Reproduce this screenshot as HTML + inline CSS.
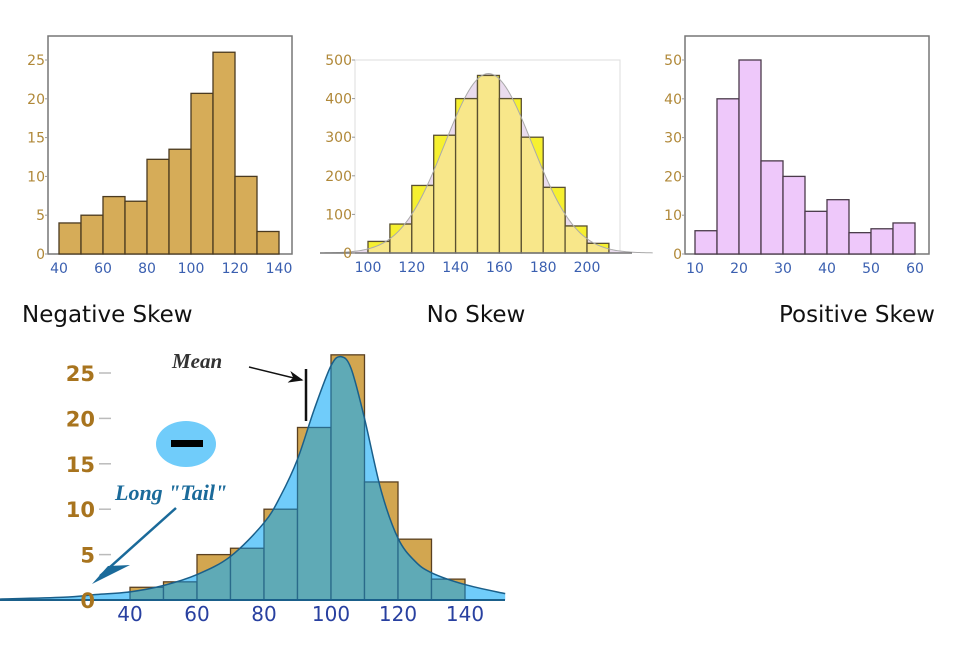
<!DOCTYPE html>
<html><head><meta charset="utf-8"><style>
body{margin:0;background:#fff;width:966px;height:658px;overflow:hidden;font-family:"Liberation Sans",sans-serif}
svg{position:absolute;left:0;top:0}
</style></head><body>
<svg id="s" width="966" height="658">
<text x="22" y="322" font-size="23" font-family="DejaVu Sans" fill="#111">Negative Skew</text>
<text x="476" y="322" font-size="23" font-family="DejaVu Sans" fill="#111" text-anchor="middle">No Skew</text>
<text x="935" y="322" font-size="23" font-family="DejaVu Sans" fill="#111" text-anchor="end">Positive Skew</text>
</svg>
<script>
const negEdges=[40,50,60,70,80,90,100,110,120,130,140];
const negCounts=[4,5,7.4,6.8,12.2,13.5,20.7,26,10,2.9];
const negYTicks=[0,5,10,15,20,25];
const negXTicks=[40,60,80,100,120,140];
const normEdges=[100,110,120,130,140,150,160,170,180,190,200,210];
const normCounts=[30,75,175,305,400,460,400,300,170,70,25];
const normYTicks=[0,100,200,300,400,500];
const normXTicks=[100,120,140,160,180,200];
const normMean=155, normSd=20, normPeak=465;
const posEdges=[10,15,20,25,30,35,40,45,50,55,60];
const posCounts=[6,40,50,24,20,11,14,5.5,6.5,8];
const posYTicks=[0,10,20,30,40,50];
const posXTicks=[10,20,30,40,50,60];
const bigEdges=[40,50,60,70,80,90,100,110,120,130,140];
const bigCounts=[1.4,2,5,5.7,10,19,27,13,6.7,2.3];
const bigYTicks=[0,5,10,15,20,25];
const bigXTicks=[40,60,80,100,120,140];
const curveX=[1,20,30,40,50,60,70,80,85,90,95,100,103,106,110,115,120,125,130,140,152];
const curveY=[0.1,0.3,0.6,0.9,1.6,2.8,4.8,8.5,11.5,15.5,21,25.8,26.8,25.5,20,12,6.8,4.3,3,1.7,0.7];

const NS="http://www.w3.org/2000/svg";
const svg=document.getElementById('s');
function mk(tag,attrs,parent){const e=document.createElementNS(NS,tag);for(const k in attrs)e.setAttribute(k,attrs[k]);(parent||svg).appendChild(e);return e;}
function lin(d0,d1,r0,r1){return v=>r0+(v-d0)*(r1-r0)/(d1-d0);}

function smallHist(o){
  const g=mk('g',{});
  
  
  const xs=lin(o.x0v,o.x1v,o.x0p,o.x1p), ys=lin(0,o.ytop,o.y0p,o.ytopp);
  const frame=mk('rect',{x:o.box[0],y:o.box[1],width:o.box[2]-o.box[0],height:o.box[3]-o.box[1],fill:'#fff',stroke:o.frameColor,'stroke-width':o.frameW},g);
  
  
  let cd='';
  if(o.curve){
    for(let x=o.cx0;x<=o.cx1;x+=1){const v=o.peak*Math.exp(-0.5*Math.pow((x-o.mean)/o.sd,2));cd+=(cd?'L':'M')+xs(x)+','+ys(v);}
    const area=cd+'L'+xs(o.cx1)+','+ys(0)+'L'+xs(o.cx0)+','+ys(0)+'Z';
    const defs=mk('defs',{},g);
    const cp=mk('clipPath',{id:'nc'},defs);
    mk('path',{d:area},cp);
    const path=mk('path',{d:area,fill:'#eadcee',stroke:'none'},g);
    
    
  }
  for(let i=0;i<o.counts.length;i++){
    const x=xs(o.edges[i]),w=xs(o.edges[i+1])-x,y=ys(o.counts[i]);
    const r=mk('rect',{x:x,y:y,width:w,height:ys(0)-y,fill:o.fill,stroke:o.stroke,'stroke-width':1.3},g);
    
    
  }
  if(o.curve){
    const cg=mk('g',{'clip-path':'url(#nc)'},g);
    for(let i=0;i<o.counts.length;i++){
      const x=xs(o.edges[i]),w=xs(o.edges[i+1])-x,y=ys(o.counts[i]);
      const r=mk('rect',{x:x,y:y,width:w,height:ys(0)-y,fill:'#f8e78a',stroke:o.stroke,'stroke-width':1.3},cg);
      
      
    }
    const c=mk('path',{d:cd,fill:'none',stroke:'#aaa','stroke-width':1},g);
    
    
    const bl=mk('line',{x1:o.blx0,x2:o.blx1,y1:ys(0),y2:ys(0),stroke:'#777','stroke-width':1.5},g);
    
    
  }
  o.yt.forEach(v=>{
    const t=mk('text',{x:o.box[0]-3,y:ys(v)+5,'font-size':14,fill:'#b08838','text-anchor':'end','font-family':'DejaVu Sans'},g);t.textContent=v;
    
    
    mk('line',{x1:o.box[0]-3,x2:o.box[0],y1:ys(v),y2:ys(v),stroke:'#999'},g);
  });
  o.xt.forEach(v=>{
    const t=mk('text',{x:xs(v),y:o.y0p+19,'font-size':14,fill:'#3a5fb0','text-anchor':'middle','font-family':'DejaVu Sans'},g);t.textContent=v;
    
    
  });
}
smallHist({name:'negative-skew-chart',edges:negEdges,counts:negCounts,yt:negYTicks,xt:negXTicks,x0v:40,x1v:140,x0p:59,x1p:279,ytop:25,y0p:254,ytopp:60,box:[48,36,292,254],fill:'#d6ac58',stroke:'#4a3a20',frameColor:'#777',frameW:1.5});
smallHist({name:'no-skew-chart',edges:normEdges,counts:normCounts,yt:normYTicks,xt:normXTicks,x0v:100,x1v:200,x0p:368,x1p:587,ytop:500,y0p:253,ytopp:60,box:[355,60,620,253],fill:'#f6f030',stroke:'#5a5030',frameColor:'#ddd',frameW:1,curve:true,mean:normMean,sd:normSd,peak:normPeak,cx0:80,cx1:230,blx0:320,blx1:632});
smallHist({name:'positive-skew-chart',edges:posEdges,counts:posCounts,yt:posYTicks,xt:posXTicks,x0v:10,x1v:60,x0p:695,x1p:915,ytop:50,y0p:254,ytopp:60,box:[685,36,929,254],fill:'#eec8fa',stroke:'#4a3a4a',frameColor:'#777',frameW:1.5});

(function(){
  const xs=lin(40,140,130,465), ys=lin(0,25,600,373);
  const g=mk('g',{});
  
  
  let pts=curveX.map((x,i)=>[xs(x),ys(curveY[i])]);
  let sd='M'+pts[0][0]+','+pts[0][1];
  for(let i=0;i<pts.length-1;i++){
    const p0=pts[Math.max(0,i-1)],p1=pts[i],p2=pts[i+1],p3=pts[Math.min(pts.length-1,i+2)];
    sd+='C'+(p1[0]+(p2[0]-p0[0])/6)+','+(p1[1]+(p2[1]-p0[1])/6)+' '+(p2[0]-(p3[0]-p1[0])/6)+','+(p2[1]-(p3[1]-p1[1])/6)+' '+p2[0]+','+p2[1];
  }
  const area=sd+'L'+pts[pts.length-1][0]+','+ys(0)+'L'+pts[0][0]+','+ys(0)+'Z';
  const defs=mk('defs',{},g);
  const cp=mk('clipPath',{id:'cc'},defs);
  mk('path',{d:area},cp);
  for(let i=0;i<bigCounts.length;i++){
    const x=xs(bigEdges[i]),w=xs(bigEdges[i+1])-x,y=ys(bigCounts[i]);
    const r=mk('rect',{x:x,y:y,width:w,height:ys(0)-y,fill:'#d2a650',stroke:'#5a4020','stroke-width':1.3},g);
    
    
  }
  const a=mk('path',{d:area,fill:'#70ccfa',stroke:'none'},g);
  
  
  const cg=mk('g',{'clip-path':'url(#cc)'},g);
  for(let i=0;i<bigCounts.length;i++){
    const x=xs(bigEdges[i]),w=xs(bigEdges[i+1])-x,y=ys(bigCounts[i]);
    const r=mk('rect',{x:x,y:y,width:w,height:ys(0)-y,fill:'#5faab6',stroke:'#2a6a8a','stroke-width':1.3},cg);
    
    
  }
  const c=mk('path',{d:sd,fill:'none',stroke:'#1a5f8a','stroke-width':1.5},g);
  
  
  const bl=mk('line',{x1:0,x2:505,y1:ys(0),y2:ys(0),stroke:'#1a5f8a','stroke-width':2},g);
  
  
  bigYTicks.forEach(v=>{
    const t=mk('text',{x:95,y:ys(v)+8,'font-size':21,'font-weight':'bold',fill:'#a8741e','text-anchor':'end','font-family':'DejaVu Sans'},g);t.textContent=v;
    
    
    if(v>0)mk('line',{x1:99,x2:111,y1:ys(v),y2:ys(v),stroke:'#bbb','stroke-width':1.5},g);
  });
  bigXTicks.forEach(v=>{
    const t=mk('text',{x:xs(v),y:621,'font-size':20,fill:'#2840a0','text-anchor':'middle','font-family':'DejaVu Sans'},g);t.textContent=v;
    
    
  });
})();
</script>
<svg width="966" height="658" style="pointer-events:none">
<defs><marker id="ah" markerWidth="10" markerHeight="8" refX="9" refY="4" orient="auto"><path d="M0,0L10,4L0,8L3,4Z" fill="#111"/></marker></defs>
<text x="172" y="368" font-family="Liberation Serif,serif" font-style="italic" font-weight="bold" font-size="21" fill="#333">Mean</text>
<line x1="249" y1="367" x2="302" y2="380" stroke="#111" stroke-width="1.5" marker-end="url(#ah)"/>
<line x1="306" y1="369" x2="306" y2="421" stroke="#111" stroke-width="2.5"/>
<ellipse cx="186" cy="444" rx="30" ry="23" fill="#70ccfa"/>
<rect x="171" y="440" width="32" height="7" fill="#000"/>
<text x="115" y="500" font-family="Liberation Serif,serif" font-style="italic" font-weight="bold" font-size="22" fill="#1a6a9a">Long "Tail"</text>
<line x1="176" y1="508" x2="100" y2="576" stroke="#1a6a9a" stroke-width="2.5"/>
<path d="M92,584 L130,565 L108,566 Z" fill="#1a6a9a"/>
</svg>
</body></html>
